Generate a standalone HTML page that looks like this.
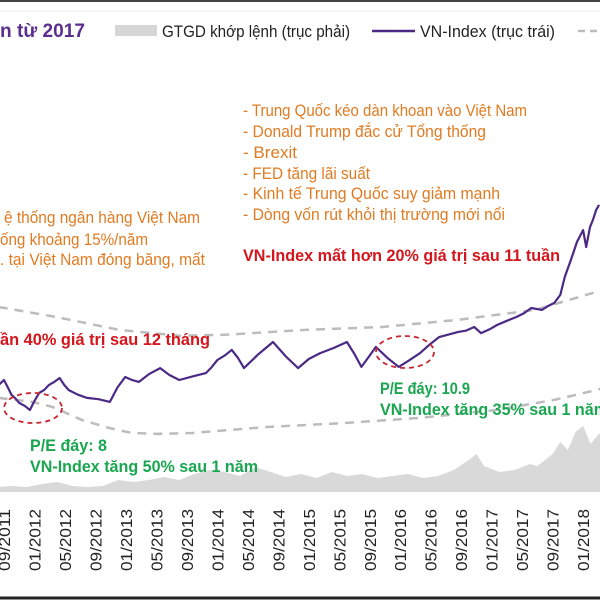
<!DOCTYPE html>
<html><head><meta charset="utf-8">
<style>
html,body{margin:0;padding:0;background:#fff;}
#wrap{position:relative;width:600px;height:600px;overflow:hidden;font-family:"Liberation Sans Narrow","Liberation Sans","DejaVu Sans Condensed",sans-serif;}
svg text{font-family:"Liberation Sans Narrow","Liberation Sans","DejaVu Sans Condensed",sans-serif;}
</style></head>
<body>
<div id="wrap">
<svg id="chart" width="600" height="600" viewBox="0 0 600 600">
  <line x1="0" y1="1" x2="600" y2="1" stroke="#444" stroke-width="2"/>
  <line x1="0" y1="11" x2="600" y2="11" stroke="#eee" stroke-width="1"/>
  <text x="0" y="37" font-size="19" font-weight="bold" fill="#5b2d8e" textLength="85" lengthAdjust="spacingAndGlyphs">n từ 2017</text>
  <rect x="115" y="25" width="42" height="11" fill="#d6d6d6"/>
  <text x="162" y="37" font-size="17" fill="#222" textLength="188" lengthAdjust="spacingAndGlyphs">GTGD khớp lệnh (trục phải)</text>
  <line x1="372" y1="31" x2="415" y2="31" stroke="#4b2a86" stroke-width="2.5"/>
  <text x="420" y="37" font-size="17" fill="#222" textLength="135" lengthAdjust="spacingAndGlyphs">VN-Index (trục trái)</text>
  <line x1="578" y1="31" x2="600" y2="31" stroke="#bbb" stroke-width="2.5" stroke-dasharray="7,5"/>
  <g id="vol"></g>
  <g id="bands"></g>
  <g id="line"></g>
  <g id="xlabels"></g>
  <g font-size="17" fill="#e07b22">
    <text x="243" y="116" textLength="284" lengthAdjust="spacingAndGlyphs">- Trung Quốc kéo dàn khoan vào Việt Nam</text>
    <text x="243" y="137" textLength="243" lengthAdjust="spacingAndGlyphs">- Donald Trump đắc cử Tổng thống</text>
    <text x="243" y="158" textLength="54" lengthAdjust="spacingAndGlyphs">- Brexit</text>
    <text x="243" y="179" textLength="127" lengthAdjust="spacingAndGlyphs">- FED tăng lãi suất</text>
    <text x="243" y="199" textLength="257" lengthAdjust="spacingAndGlyphs">- Kinh tế Trung Quốc suy giảm mạnh</text>
    <text x="243" y="220" textLength="262" lengthAdjust="spacingAndGlyphs">- Dòng vốn rút khỏi thị trường mới nổi</text>
  </g>
  <g font-size="17" fill="#e07b22">
    <text x="4" y="223" textLength="196" lengthAdjust="spacingAndGlyphs">ệ thống ngân hàng Việt Nam</text>
    <text x="0" y="245" textLength="148" lengthAdjust="spacingAndGlyphs">ống khoảng 15%/năm</text>
    <text x="0" y="265" textLength="205" lengthAdjust="spacingAndGlyphs">. tại Việt Nam đóng băng, mất</text>
  </g>
  <text x="243" y="261" font-size="17" font-weight="bold" fill="#d4161d" textLength="317" lengthAdjust="spacingAndGlyphs">VN-Index mất hơn 20% giá trị sau 11 tuần</text>
  <text x="0" y="345" font-size="17" font-weight="bold" fill="#d4161d" textLength="210" lengthAdjust="spacingAndGlyphs">ần 40% giá trị sau 12 tháng</text>
  <ellipse cx="33" cy="408" rx="29" ry="15" fill="none" stroke="#c8262e" stroke-width="1.8" stroke-dasharray="5,4"/>
  <ellipse cx="405" cy="352" rx="29" ry="16" fill="none" stroke="#c8262e" stroke-width="1.8" stroke-dasharray="5,4"/>
  <g font-size="17" font-weight="bold" fill="#1aa650">
    <text x="380" y="394" textLength="90" lengthAdjust="spacingAndGlyphs">P/E đáy: 10.9</text>
    <text x="380" y="415" textLength="228" lengthAdjust="spacingAndGlyphs">VN-Index tăng 35% sau 1 năm</text>
    <text x="30" y="451" textLength="77" lengthAdjust="spacingAndGlyphs">P/E đáy: 8</text>
    <text x="30" y="472" textLength="228" lengthAdjust="spacingAndGlyphs">VN-Index tăng 50% sau 1 năm</text>
  </g>
  <line x1="0" y1="598" x2="600" y2="598" stroke="#222" stroke-width="3"/>
</svg>
</div>
<script>
// months since 09/2011
const lineMonths = [-0.7,0,0.5,1,1.5,2,2.7,3.4,4,4.6,5.3,5.9,6.6,7.3,7.9,8.5,9.7,10.9,12.4,13.9,14.9,15.9,16.8,17.7,19.1,20.5,21.7,23,24.8,26.5,27.2,28,29,29.9,30.7,31.5,33.4,35.3,37,38.6,40,41.5,43.3,45,46,46.9,47.9,48.8,50.3,51.8,53.2,54.6,55.9,57.1,58.4,59.6,60.6,61.7,62.6,63.7,64.7,66,67.2,68.2,69.2,70.6,71.4,72.2,73,73.6,74.4,75.2,76,76.4,76.9,77.3,77.7,78.1];
const lineValues = [450,470,440,409,395,377,365,348,385,417,430,450,462,478,450,429,410,397,392,381,440,482,470,462,495,518,490,470,485,498,520,551,570,592,560,518,575,624,565,518,555,579,600,624,575,523,565,604,560,523,550,579,615,644,655,665,670,685,660,675,693,710,725,740,762,754,770,782,815,888,957,1030,1078,1009,1090,1120,1159,1180];
const upperMonths = [-0.7,6.8,15.1,23,29,39.5,49.6,59.6,69.7,77.7,79];
const upperValues = [766,726,673,649,653,673,685,714,754,827,845];
const lowerMonths = [-0.7,3.7,6.3,10.2,13.8,16.8,20.3,24.7,34.5,44.5,54.6,64.6,72.2,77.7,79];
const lowerValues = [397,381,361,308,275,255,251,255,279,295,316,348,389,429,440];
const volMonths = [-1,1,3,5,7,9,11,13,15,17,19,21,23,25,27,29,31,33,35,37,39,41,43,45,47,49,51,53,55,57,59,61,62,63,65,67,69,70,72,73,74,75,76,77,78,79];
const volValues = [0.5,0.6,0.5,0.8,1.0,0.6,0.5,0.6,1.2,1.0,1.2,1.5,1.2,1.8,2.2,2.0,1.6,2.5,2.0,1.5,1.8,1.4,2.0,1.6,1.8,1.4,1.6,1.8,1.4,1.6,2.2,3.2,3.8,2.6,2.0,2.2,2.8,2.6,3.8,5.0,4.2,6.0,6.6,4.8,5.8,6.0];
const tickLabels = ["09/2011","01/2012","05/2012","09/2012","01/2013","05/2013","09/2013","01/2014","05/2014","09/2014","01/2015","05/2015","09/2015","01/2016","05/2016","09/2016","01/2017","05/2017","09/2017","01/2018"];

const NS = "http://www.w3.org/2000/svg";
function xS(m){return 4 + m*7.62;}
function yL(v){return 412 - (v-340)*0.2465;}
function yR(v){return 492 - v*10;}
function pts(ms,vs,fy){return ms.map((m,i)=>xS(m).toFixed(1)+","+fy(vs[i]).toFixed(1)).join(" ");}

const vol = document.getElementById('vol');
const area = document.createElementNS(NS,'polygon');
area.setAttribute('points', xS(volMonths[0])+",492 "+pts(volMonths,volValues,yR)+" "+xS(volMonths[volMonths.length-1])+",492");
area.setAttribute('fill','#d9d9d9');


vol.appendChild(area);

const bands = document.getElementById('bands');
[[upperMonths,upperValues,'pe-upper-band'],[lowerMonths,lowerValues,'pe-lower-band']].forEach(b=>{
  const pl = document.createElementNS(NS,'polyline');
  pl.setAttribute('points', pts(b[0],b[1],yL));
  pl.setAttribute('fill','none');
  pl.setAttribute('stroke','#bcbcbc');
  pl.setAttribute('stroke-width','2.5');
  pl.setAttribute('stroke-dasharray','9,7');
  
  
  bands.appendChild(pl);
});

const lg = document.getElementById('line');
const ln = document.createElementNS(NS,'polyline');
ln.setAttribute('points', pts(lineMonths,lineValues,yL));
ln.setAttribute('fill','none');
ln.setAttribute('stroke','#4b2a86');
ln.setAttribute('stroke-width','2.2');
ln.setAttribute('stroke-linejoin','round');


lg.appendChild(ln);

const xl = document.getElementById('xlabels');
tickLabels.forEach((t,i)=>{
  const x = xS(i*4);
  const tx = document.createElementNS(NS,'text');
  tx.setAttribute('transform','translate('+(x+6).toFixed(1)+',571) rotate(-90)');
  tx.setAttribute('font-size','16');
  tx.setAttribute('fill','#222');
  tx.setAttribute('textLength','62');
  tx.setAttribute('lengthAdjust','spacingAndGlyphs');
  tx.textContent = t;
  
  
  xl.appendChild(tx);
});
</script>
</body></html>
